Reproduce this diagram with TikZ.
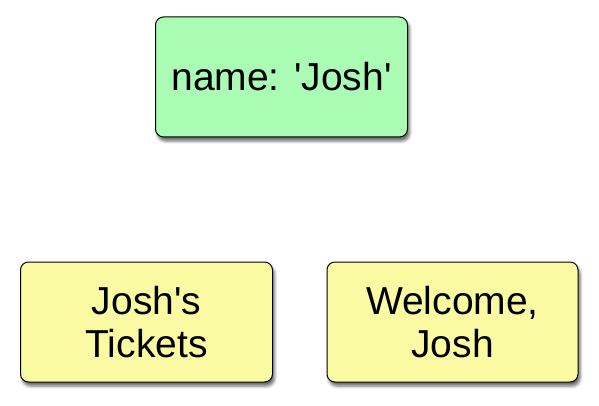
\documentclass[tikz,border=0pt]{standalone}
\usepackage{fontspec}
\setmainfont{Liberation Sans}
\newfontfamily\cardfont{Liberation Sans}[Ligatures=TeXOff]
\usetikzlibrary{shadows.blur}
\definecolor{boxgreen}{HTML}{AAFBB4}
\definecolor{boxyellow}{HTML}{FAFAA2}
\tikzset{
  card/.style={draw=black, line width=1pt, rounded corners=8pt, minimum width=252pt, minimum height=120pt,
    align=center, inner sep=0pt, font=\cardfont\fontsize{39}{43}\selectfont,
    blur shadow={shadow xshift=2pt, shadow yshift=-4pt, shadow blur radius=3pt, shadow opacity=60}},
  greencard/.style={card, fill=boxgreen},
  yellowcard/.style={card, fill=boxyellow}
}
\begin{document}
\begin{tikzpicture}[x=1pt, y=-1pt]
\useasboundingbox (0,0) rectangle (599,406);
\node[greencard] (state) at (281.5,77) {name: 'Josh'};
\node[yellowcard] (tickets) at (146.5,322) {Josh's\\Tickets};
\node[yellowcard, minimum width=251pt] (welcome) at (452.5,322) {Welcome,\\Josh};
\end{tikzpicture}
\end{document}
